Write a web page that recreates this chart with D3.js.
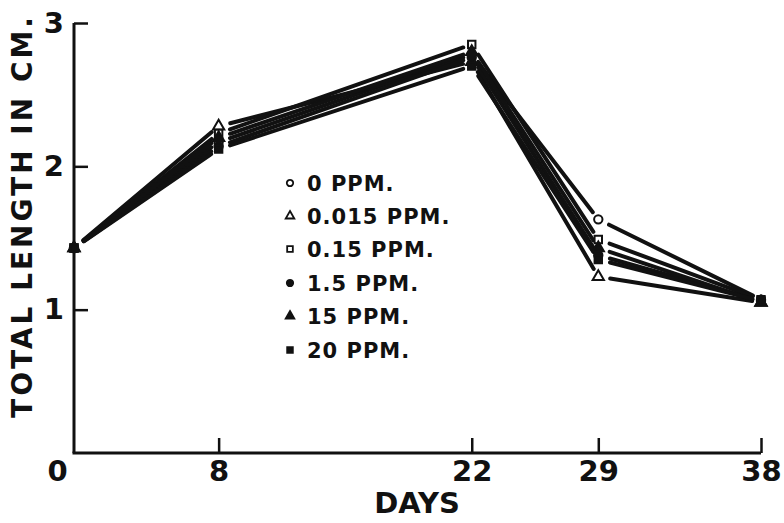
<!DOCTYPE html>
<html><head><meta charset="utf-8">
<script src="https://cdn.jsdelivr.net/npm/d3@7"></script>
<style>
html,body{margin:0;padding:0;background:#fff;}
svg{display:block;}
text{font-family:"DejaVu Sans",sans-serif;font-weight:bold;fill:#111;}
</style></head>
<body>
<script>
// ---- data ----
const days = [0, 8, 22, 29, 38];
const seriesNames = ["0 PPM.", "0.015 PPM.", "0.15 PPM.", "1.5 PPM.", "15 PPM.", "20 PPM."];
const seriesSymbols = ["circle", "triangle", "square", "circle", "triangle", "square"];
const seriesFilled = [false, false, false, true, true, true];
const ppm0    = [1.43, 2.17, 2.78, 1.63, 1.07];
const ppm0015 = [1.43, 2.28, 2.73, 1.23, 1.05];
const ppm015  = [1.43, 2.23, 2.85, 1.49, 1.07];
const ppm15   = [1.43, 2.14, 2.76, 1.38, 1.06];
const ppm15b  = [1.43, 2.20, 2.80, 1.43, 1.05];
const ppm20   = [1.43, 2.12, 2.70, 1.35, 1.06];
const seriesValues = [ppm0, ppm0015, ppm015, ppm15, ppm15b, ppm20];
const xTicks = [0, 8, 22, 29, 38];
const yTicks = [1, 2, 3];
const xTitle = "DAYS";
const yTitle = "TOTAL LENGTH IN CM.";

// ---- layout ----
const W = 784, H = 523;
const svg = d3.select("body").append("svg").attr("width", W).attr("height", H);
const x = d3.scaleLinear().domain([0, 38]).range([74, 761]);
const y = d3.scaleLinear().domain([0, 3]).range([453, 23]);

// axes
const yAxis = d3.axisLeft(y).tickValues(yTicks).tickSizeInner(-14).tickSizeOuter(0).tickPadding(10).tickFormat(d3.format("d"));
const gy = svg.append("g").attr("transform", `translate(${x(0)},0)`).call(yAxis);
gy.select(".domain").attr("stroke", "#111").attr("stroke-width", 3).attr("d", `M0,${y(3)}V${y(0)}`);
gy.selectAll(".tick line").attr("stroke", "#111").attr("stroke-width", 2.5);
gy.selectAll(".tick text").style("font-size", "29px").attr("fill", "#111");

const xAxis = d3.axisBottom(x).tickValues(xTicks).tickSizeInner(-15).tickSizeOuter(0).tickPadding(7).tickFormat(d3.format("d"));
const gx = svg.append("g").attr("transform", `translate(0,${y(0)})`).call(xAxis);
gx.select(".domain").attr("stroke", "#111").attr("stroke-width", 3).attr("d", `M${x(0)-1.5},0H${x(38)}`);
gx.selectAll(".tick line").attr("stroke", "#111").attr("stroke-width", 2.5);
gx.selectAll(".tick").filter(d => d === 0).select("line").remove();
gx.selectAll(".tick").filter(d => d === 0).select("text").attr("dx", -17);
gx.selectAll(".tick text").style("font-size", "29px").attr("fill", "#111");

// titles
svg.append("text").attr("x", 417).attr("y", 513).attr("text-anchor", "middle")
  .style("font-size", "29px").text(xTitle);
svg.append("text").attr("transform", `translate(32,216) rotate(-90)`).attr("text-anchor", "middle")
  .style("font-size", "28px").style("letter-spacing", "3px").text(yTitle);

// lines with gaps near markers
const gap = 9;
const gl = svg.append("g");
seriesValues.forEach((vals) => {
  for (let i = 0; i < days.length - 1; i++) {
    const x1 = x(days[i]), y1 = y(vals[i]), x2 = x(days[i+1]), y2 = y(vals[i+1]);
    const dx = x2 - x1, dy = y2 - y1, L = Math.hypot(dx, dy);
    const ux = dx / L, uy = dy / L;
    gl.append("line")
      .attr("x1", x1 + ux * (gap + 3)).attr("y1", y1 + uy * (gap + 3))
      .attr("x2", x2 - ux * gap).attr("y2", y2 - uy * gap)
      .attr("stroke", "#111").attr("stroke-width", 4).attr("stroke-linecap", "round");
  }
});

// markers
function symbolPath(kind, size) {
  const t = kind === "circle" ? d3.symbolCircle : kind === "triangle" ? d3.symbolTriangle : d3.symbolSquare;
  return d3.symbol().type(t).size(size)();
}
const gm = svg.append("g");
seriesValues.forEach((vals, s) => {
  vals.forEach((v, i) => {
    gm.append("path").attr("d", symbolPath(seriesSymbols[s], 55))
      .attr("transform", `translate(${x(days[i])},${y(v)})`)
      .attr("fill", seriesFilled[s] ? "#111" : "#fff")
      .attr("stroke", "#111").attr("stroke-width", 2);
  });
});

// legend
const legY = [183, 216, 249, 283, 316, 350];
const lg = svg.append("g");
seriesNames.forEach((name, s) => {
  lg.append("path").attr("d", symbolPath(seriesSymbols[s], 32))
    .attr("transform", `translate(290,${legY[s]})`)
    .attr("fill", seriesFilled[s] ? "#111" : "#fff")
    .attr("stroke", "#111").attr("stroke-width", 1.8);
  lg.append("text").attr("x", 307).attr("y", legY[s] + 7.5)
    .style("font-size", "21px").style("letter-spacing", "1px").text(name);
});
</script>
</body></html>
